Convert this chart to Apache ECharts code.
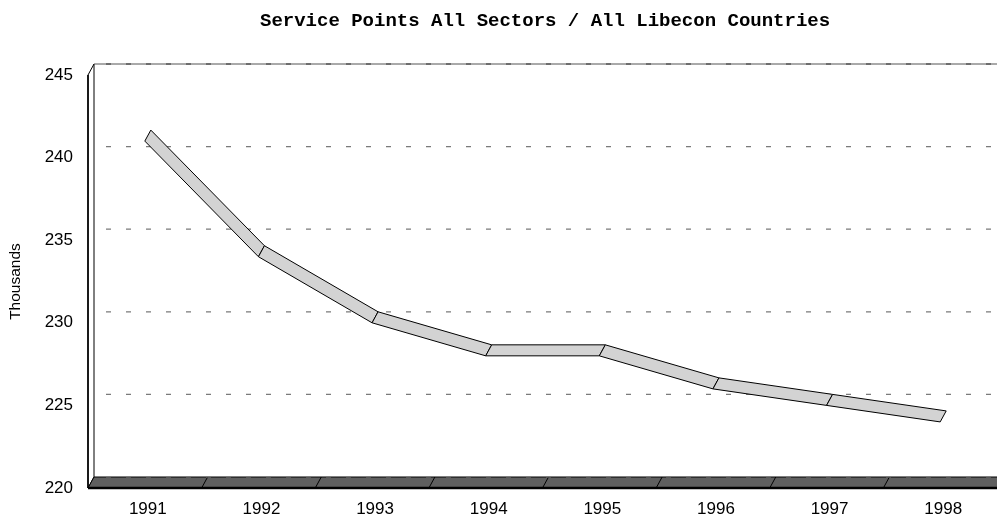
<!DOCTYPE html>
<html>
<head>
<meta charset="utf-8">
<script src="https://cdn.jsdelivr.net/npm/echarts@6/dist/echarts.min.js"></script>
<style>
html,body{margin:0;padding:0;background:#fff;}
#chart{width:997px;height:518px;}
</style>
</head>
<body>
<div id="chart"></div>
<script>
// ---- data ----
var years = ['1991','1992','1993','1994','1995','1996','1997','1998'];
var servicePoints = [241.0, 234.0, 230.0, 228.0, 228.0, 226.0, 225.0, 224.0];
var yTicks = [220, 225, 230, 235, 240, 245];
var yMin = 220, yMax = 245, yStep = 5;
var titleText = 'Service Points All Sectors / All Libecon Countries';
var yName = 'Thousands';

// depth offset of 3D box (pixels)
var DX = 6, DY = -11;

var segData = [];
for (var i = 0; i < servicePoints.length - 1; i++) {
  segData.push([i, servicePoints[i], servicePoints[i + 1]]);
}

var chart = echarts.init(document.getElementById('chart'));

function wallsRender(params, api) {
  var cs = params.coordSys;
  var x0 = cs.x, x1 = cs.x + cs.width;
  var yb = api.coord([0, yMin])[1];
  var yt = api.coord([0, yMax])[1];
  var n = years.length;
  var bw = cs.width / n;
  var children = [];
  // left wall
  children.push({type:'polygon', shape:{points:[[x0,yt],[x0+DX,yt+DY],[x0+DX,yb+DY],[x0,yb]]},
    style:{fill:'#ffffff', stroke:'#000', lineWidth:1}});
  children.push({type:'line', shape:{x1:x0,y1:yt,x2:x0,y2:yb}, style:{stroke:'#000', lineWidth:1.6}});
  // floor
  children.push({type:'polygon', shape:{points:[[x0,yb],[x0+DX,yb+DY],[x1+DX,yb+DY],[x1,yb]]},
    style:{fill:'#5f5f5f', stroke:'#000', lineWidth:1}});
  for (var k = 1; k < n; k++) {
    var bx = x0 + bw * k;
    children.push({type:'line', shape:{x1:bx,y1:yb,x2:bx+DX,y2:yb+DY}, style:{stroke:'#000', lineWidth:1}});
  }
  children.push({type:'line', shape:{x1:x0,y1:yb,x2:x1,y2:yb}, style:{stroke:'#000', lineWidth:2.5}});
  // back wall top edge
  children.push({type:'line', shape:{x1:x0+DX,y1:yt+DY,x2:x1+DX+20,y2:yt+DY}, style:{stroke:'#555', lineWidth:1}});
  return {type:'group', children:children};
}

function gridRender(params, api) {
  var cs = params.coordSys;
  var v = api.value(0);
  var y = api.coord([0, v])[1] + DY;
  var xs = cs.x + DX;
  return {type:'line', shape:{x1:xs, y1:y, x2:cs.x + cs.width + DX + 20, y2:y},
    style:{stroke:(v === yMax ? '#333' : '#7a7a7a'), lineWidth:1.2, lineDash:[5,15], lineDashOffset:8}};
}

function ribbonRender(params, api) {
  var a = api.coord([api.value(0), api.value(1)]);
  var b = api.coord([api.value(0) + 1, api.value(2)]);
  return {type:'polygon',
    shape:{points:[[a[0],a[1]],[b[0],b[1]],[b[0]+DX,b[1]+DY],[a[0]+DX,a[1]+DY]]},
    style:{fill:'#d3d3d3', stroke:'#000', lineWidth:1}};
}

chart.setOption({
  animation:false,
  backgroundColor:'#ffffff',
  title:{
    text:titleText, left:260, top:12, padding:0,
    textStyle:{fontFamily:'Liberation Mono', fontWeight:'bold', fontSize:19, color:'#000'}
  },
  grid:{left:87, right:-2, top:75, bottom:29},
  xAxis:{
    type:'category', data:years, boundaryGap:true,
    axisLine:{show:false}, axisTick:{show:false},
    axisLabel:{fontFamily:'Liberation Sans', fontSize:17, color:'#000', margin:13, padding:[0,0,0,6]},
    splitLine:{show:false}
  },
  yAxis:{
    type:'value', min:yMin, max:yMax, interval:yStep,
    name:yName, nameLocation:'middle', nameRotate:90, nameGap:64,
    nameTextStyle:{fontFamily:'Liberation Sans', fontSize:15.5, color:'#000'},
    axisLine:{show:false}, axisTick:{show:false},
    axisLabel:{fontFamily:'Liberation Sans', fontSize:17, color:'#000', margin:15},
    splitLine:{show:false}
  },
  series:[
    {type:'custom', renderItem:wallsRender, data:[[0]], z:1, silent:true, clip:false},
    {type:'custom', renderItem:gridRender, data:yTicks.map(function(v){return [v];}), z:2, silent:true, clip:false,
      encode:{y:0}},
    {type:'custom', renderItem:ribbonRender, data:segData, z:3, silent:true, clip:false,
      encode:{x:0, y:[1,2]}}
  ]
});
</script>
</body>
</html>
